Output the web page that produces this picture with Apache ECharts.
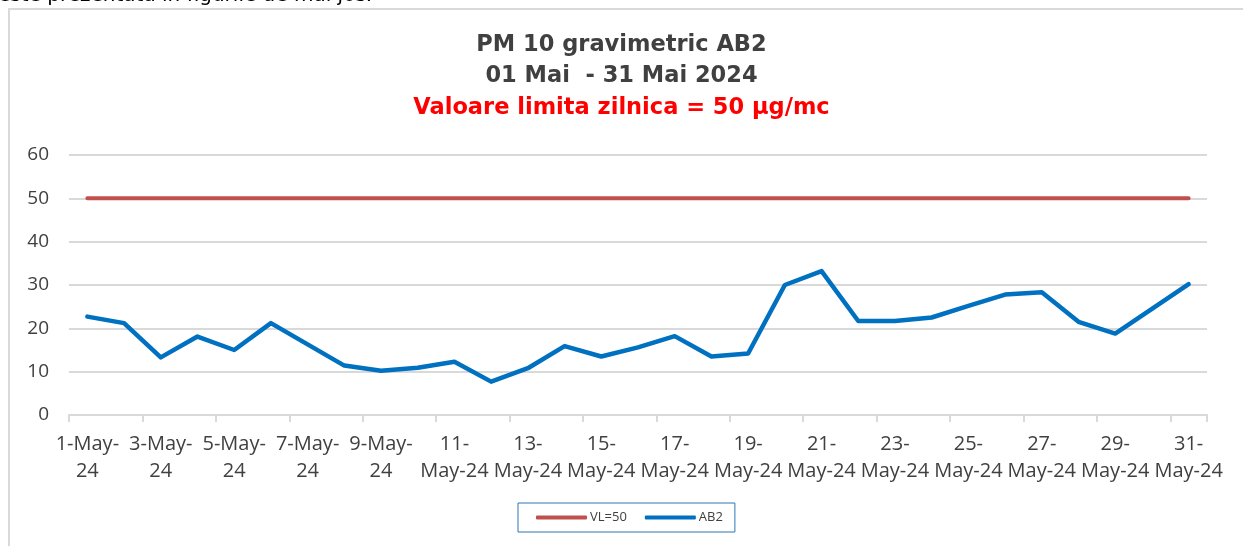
<!DOCTYPE html>
<html>
<head>
<meta charset="utf-8">
<script src="https://cdn.jsdelivr.net/npm/echarts@6/dist/echarts.min.js"></script>
<style>
  html, body { margin: 0; padding: 0; background: #fff; }
  #chart { width: 1243px; height: 546px; }
</style>
</head>
<body>
<div id="chart"></div>
<script>
  // zilele lunii mai 2024
  var days = [];
  for (var d = 1; d <= 31; d++) { days.push(d + '-May-24'); }

  var vlData = [50, 50, 50, 50, 50, 50, 50, 50, 50, 50, 50, 50, 50, 50, 50, 50,
                50, 50, 50, 50, 50, 50, 50, 50, 50, 50, 50, 50, 50, 50, 50];
  var ab2Data = [22.7, 21.2, 13.3, 18.1, 15.0, 21.2, 16.3, 11.4, 10.2, 10.9,
                 12.3, 7.7, 10.8, 15.9, 13.5, 15.6, 18.2, 13.5, 14.2, 30.0,
                 33.2, 21.7, 21.7, 22.5, 25.2, 27.8, 28.3, 21.5, 18.8, 24.5, 30.2];
  var seriesNames = ['VL=50', 'AB2'];
  var seriesColors = ['#C0504D', '#0070C0'];

  var myChart = echarts.init(document.getElementById('chart'));
  var titleFont = '"DejaVu Sans", sans-serif';
  var axisFont = '"Open Sans", sans-serif';

  myChart.setOption({
    animation: false,
    title: [
      {
        text: 'PM 10 gravimetric AB2',
        left: 'center', top: 29,
        textStyle: { fontFamily: titleFont, fontSize: 22.5, fontWeight: 'bold', color: '#404040' }
      },
      {
        text: '01 Mai  - 31 Mai 2024',
        left: 'center', top: 60,
        textStyle: { fontFamily: titleFont, fontSize: 22.5, fontWeight: 'bold', color: '#404040' }
      },
      {
        text: 'Valoare limita zilnica = 50 µg/mc',
        left: 'center', top: 92,
        textStyle: { fontFamily: titleFont, fontSize: 22.5, fontWeight: 'bold', color: '#FF0000' }
      }
    ],
    graphic: [
      {
        type: 'rect',
        shape: { x: 9, y: 9, width: 1300, height: 600 },
        style: { fill: 'none', stroke: '#d9d9d9', lineWidth: 2 },
        silent: true
      },
      {
        type: 'text',
        left: -2, top: -14,
        style: { text: 'este prezentata in figurile de mai jos.', fontFamily: titleFont, fontSize: 20, fill: '#000' }
      }
    ],
    legend: {
      data: [
        { name: seriesNames[0], icon: 'roundRect' },
        { name: seriesNames[1], icon: 'roundRect' }
      ],
      left: 518,
      top: 503,
      itemWidth: 51,
      itemHeight: 4,
      itemGap: 18,
      padding: [8, 12, 8, 18],
      borderColor: '#2E75B6',
      borderWidth: 1,
      textStyle: { fontFamily: axisFont, fontSize: 13, color: '#404040', padding: [0, 0, 0, -2] }
    },
    grid: {
      left: 69,
      right: 36,
      top: 155,
      bottom: 131,
      containLabel: false
    },
    xAxis: {
      type: 'category',
      data: days,
      boundaryGap: true,
      axisLine: { lineStyle: { color: '#d9d9d9', width: 2 } },
      axisTick: { show: true, interval: 1, length: 7, lineStyle: { color: '#d9d9d9', width: 2 } },
      axisLabel: {
        interval: 1,
        margin: 16,
        fontFamily: axisFont,
        fontSize: 20,
        lineHeight: 27,
        color: '#404040',
        formatter: function (value) {
          var p = value.split('-');
          if (p[0].length < 2) { return p[0] + '-' + p[1] + '-\n' + p[2]; }
          return p[0] + '-\n' + p[1] + '-' + p[2];
        }
      }
    },
    yAxis: {
      type: 'value',
      min: 0,
      max: 60,
      interval: 10,
      axisLine: { show: false },
      axisTick: { show: false },
      splitLine: { lineStyle: { color: '#d9d9d9', width: 2 } },
      axisLabel: { margin: 20, fontFamily: axisFont, fontSize: 19, color: '#404040' }
    },
    series: [
      {
        name: seriesNames[0],
        type: 'line',
        data: vlData,
        symbol: 'none',
        itemStyle: { color: seriesColors[0] },
        lineStyle: { width: 4, color: seriesColors[0], cap: 'round' }
      },
      {
        name: seriesNames[1],
        type: 'line',
        data: ab2Data,
        symbol: 'none',
        itemStyle: { color: seriesColors[1] },
        lineStyle: { width: 4.5, color: seriesColors[1], cap: 'round', join: 'round' }
      }
    ]
  });
</script>
</body>
</html>
